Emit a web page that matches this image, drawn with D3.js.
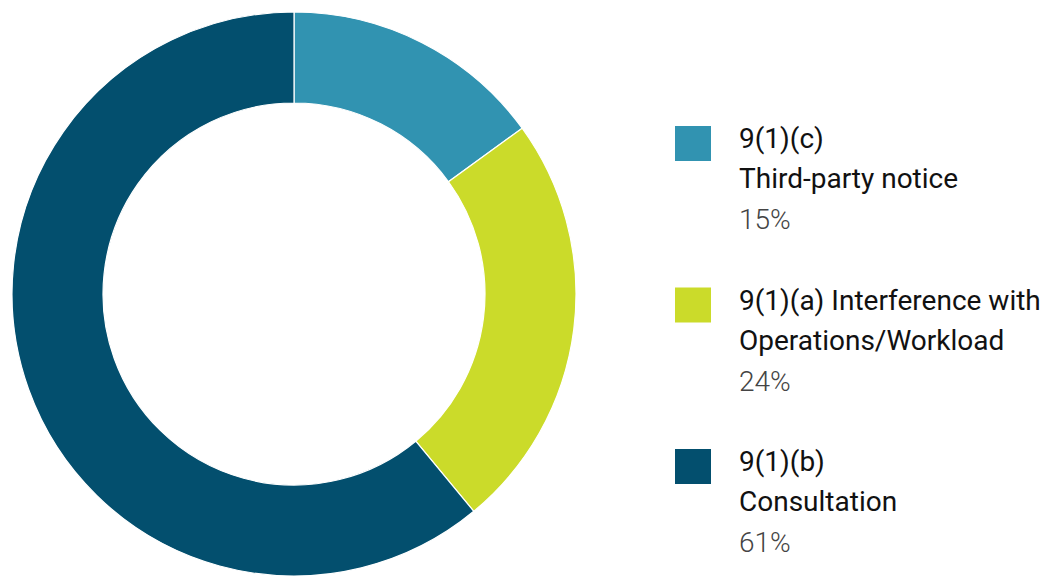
<!DOCTYPE html>
<html>
<head>
<meta charset="utf-8">
<script src="https://cdn.jsdelivr.net/npm/d3@7"></script>
<style>
  html, body { margin: 0; padding: 0; background: #fff; }
  svg { display: block; }
  .lbl { font-family: Roboto, "Liberation Sans", sans-serif; }
</style>
</head>
<body>
<svg id="chart" width="1044" height="578"></svg>
<script>
// Exemption shares, clockwise from 12 o'clock
const codes = ["9(1)(c)", "9(1)(a)", "9(1)(b)"];
const labelLines = [
  ["9(1)(c)", "Third-party notice"],
  ["9(1)(a) Interference with", "Operations/Workload"],
  ["9(1)(b)", "Consultation"]
];
const shares = [15, 24, 61];
const colors = ["#3193b1", "#cbdb2a", "#034f6e"];

const svg = d3.select("#chart");
const cx = 294, cy = 294, rOuter = 282, rInner = 191;

const data = codes.map((c, i) => ({ code: c, lines: labelLines[i], value: shares[i], color: colors[i] }));

const pie = d3.pie().sort(null).value(d => d.value);
const arc = d3.arc().innerRadius(rInner).outerRadius(rOuter);

svg.append("g")
  .attr("transform", `translate(${cx},${cy})`)
  .selectAll("path")
  .data(pie(data))
  .join("path")
  .attr("d", arc)
  .attr("fill", d => d.data.color)
  .attr("stroke", "#ffffff")
  .attr("stroke-width", 1.2);

// Legend
const condense = 1.0;
const legendY = d3.scalePoint().domain(codes).range([126, 449]);
const lg = svg.append("g").attr("class", "lbl");
const item = lg.selectAll("g").data(data).join("g")
  .attr("transform", d => `translate(675,${legendY(d.code)})`);

item.append("rect")
  .attr("width", 36).attr("height", 35)
  .attr("fill", d => d.color);

item.each(function(d) {
  const t = d3.select(this).append("g")
    .attr("transform", `translate(64,0) scale(${condense},1)`);
  d.lines.forEach((s, j) => {
    t.append("text")
      .attr("x", 0)
      .attr("y", 22 + j * 40)
      .attr("font-size", 28)
      .attr("font-weight", 400)
      .attr("fill", "#111111")
      .text(s);
  });
  t.append("text")
    .attr("x", 0)
    .attr("y", 103)
    .attr("font-size", 28)
    .attr("fill", "#444444")
    .attr("font-weight", 300)
    .text(d.value + "%");
});
</script>
</body>
</html>
